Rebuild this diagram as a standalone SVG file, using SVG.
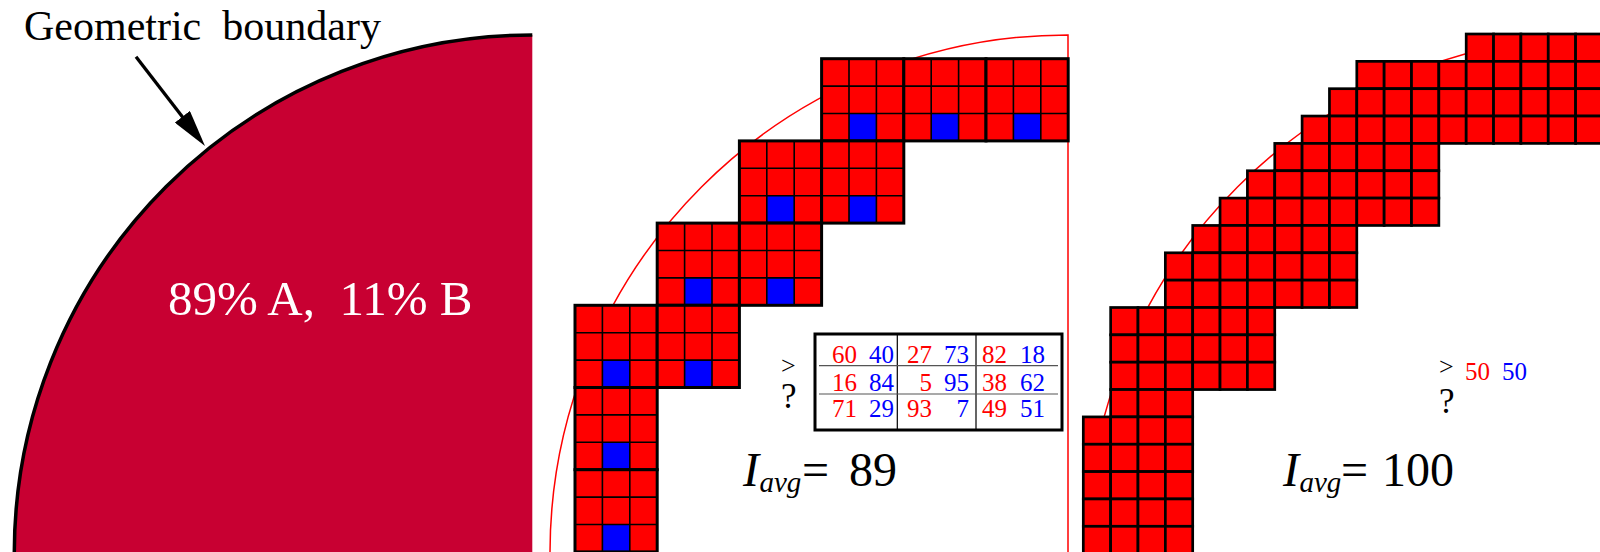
<svg xmlns="http://www.w3.org/2000/svg" xmlns:xlink="http://www.w3.org/1999/xlink" width="1600" height="552" viewBox="0 0 1600 552">
<style>
text{font-family:"Liberation Serif","Times New Roman",serif;}
.pre{white-space:pre;}
.r{fill:#ff0000;}
.b{fill:#0000ff;}
.num{font-size:25px;text-anchor:end;}
.it{font-style:italic;}
.bnd{fill:none;stroke:#ff0000;stroke-width:1.5;}
</style>
<defs>
<marker id="arrow" viewBox="0 0 37 19" refX="12" refY="9.5" markerWidth="37" markerHeight="19" markerUnits="userSpaceOnUse" orient="auto">
<path d="M0,0 L37,9.5 L0,19 Z" fill="#000"/>
</marker>
<g id="blk">
<rect x="0" y="0" width="82.2" height="82.2" fill="#ff0000"/>
<rect x="27.4" y="54.8" width="27.4" height="27.4" fill="#0000ff"/>
<path d="M27.4,0V82.2M54.8,0V82.2M0,27.4H82.2M0,54.8H82.2" stroke="#000" stroke-width="1.6" fill="none"/>
<rect x="0" y="0" width="82.2" height="82.2" fill="none" stroke="#000" stroke-width="3"/>
</g>
<rect id="rc" x="0" y="0" width="27.35" height="27.35" fill="#ff0000" stroke="#000" stroke-width="2.7"/>
</defs>
<rect width="1600" height="552" fill="#fff"/>

<g id="panel-geometry">
<path d="M532.3,35 A518,518 0 0 0 14.3,553 L532.3,553 Z" fill="#c80032"/>
<path d="M532.3,35 A518,518 0 0 0 14.3,553" fill="none" stroke="#000" stroke-width="3.5"/>
<text x="168" y="315" font-size="49" fill="#fff" class="pre">89% A,  11% B</text>
</g>

<g id="label-boundary">
<text x="24" y="40" font-size="42" fill="#000" class="pre">Geometric  boundary</text>
</g>

<g id="connectors">
<line x1="136" y1="56.7" x2="189.7" y2="126.2" stroke="#000" stroke-width="3.3" marker-end="url(#arrow)"/>
</g>

<g id="panel-blocks">
<path class="bnd" d="M550,553 A518,518 0 0 1 1068,35 V553"/>
<use href="#blk" x="821.6" y="58.7"/>
<use href="#blk" x="903.8" y="58.7"/>
<use href="#blk" x="986" y="58.7"/>
<use href="#blk" x="739.4" y="140.9"/>
<use href="#blk" x="821.6" y="140.9"/>
<use href="#blk" x="657.2" y="223.1"/>
<use href="#blk" x="739.4" y="223.1"/>
<use href="#blk" x="575" y="305.3"/>
<use href="#blk" x="657.2" y="305.3"/>
<use href="#blk" x="575" y="387.5"/>
<use href="#blk" x="575" y="469.7"/>
<g id="table">
<rect x="815" y="334" width="247" height="96" fill="#fff" stroke="#000" stroke-width="3"/>
<path d="M897.3,334V430M976,334V430" stroke="#000" stroke-width="1.2" fill="none"/>
<path d="M819,365.7H1058M819,394H1058" stroke="#555" stroke-width="1.2" fill="none"/>
<text class="num r" x="857" y="362.7">60</text>
<text class="num b" x="894" y="362.7">40</text>
<text class="num r" x="932" y="362.7">27</text>
<text class="num b" x="969" y="362.7">73</text>
<text class="num r" x="1007" y="362.7">82</text>
<text class="num b" x="1045" y="362.7">18</text>
<text class="num r" x="857" y="391">16</text>
<text class="num b" x="894" y="391">84</text>
<text class="num r" x="932" y="391">5</text>
<text class="num b" x="969" y="391">95</text>
<text class="num r" x="1007" y="391">38</text>
<text class="num b" x="1045" y="391">62</text>
<text class="num r" x="857" y="416.7">71</text>
<text class="num b" x="894" y="416.7">29</text>
<text class="num r" x="932" y="416.7">93</text>
<text class="num b" x="969" y="416.7">7</text>
<text class="num r" x="1007" y="416.7">49</text>
<text class="num b" x="1045" y="416.7">51</text>
</g>
<text x="781" y="374" font-size="26">&gt;</text>
<text x="781" y="408" font-size="35">?</text>
<g id="iavg-89">
<text x="743" y="485.5" font-size="48" class="it">I</text>
<text x="759.5" y="492" font-size="29" class="it">avg</text>
<text x="802" y="485.5" font-size="48">=</text>
<text x="849" y="485.5" font-size="48">89</text>
</g>
</g>

<g id="panel-cells">
<path class="bnd" d="M1086,553 A518,518 0 0 1 1604,35"/>
<g id="row0" transform="translate(0,34)"><use href="#rc" x="1466.2"/><use href="#rc" x="1493.55"/><use href="#rc" x="1520.9"/><use href="#rc" x="1548.25"/><use href="#rc" x="1575.6"/></g>
<g id="row1" transform="translate(0,61.35)"><use href="#rc" x="1356.8"/><use href="#rc" x="1384.15"/><use href="#rc" x="1411.5"/><use href="#rc" x="1438.85"/><use href="#rc" x="1466.2"/><use href="#rc" x="1493.55"/><use href="#rc" x="1520.9"/><use href="#rc" x="1548.25"/><use href="#rc" x="1575.6"/></g>
<g id="row2" transform="translate(0,88.7)"><use href="#rc" x="1329.45"/><use href="#rc" x="1356.8"/><use href="#rc" x="1384.15"/><use href="#rc" x="1411.5"/><use href="#rc" x="1438.85"/><use href="#rc" x="1466.2"/><use href="#rc" x="1493.55"/><use href="#rc" x="1520.9"/><use href="#rc" x="1548.25"/><use href="#rc" x="1575.6"/></g>
<g id="row3" transform="translate(0,116.05)"><use href="#rc" x="1302.1"/><use href="#rc" x="1329.45"/><use href="#rc" x="1356.8"/><use href="#rc" x="1384.15"/><use href="#rc" x="1411.5"/><use href="#rc" x="1438.85"/><use href="#rc" x="1466.2"/><use href="#rc" x="1493.55"/><use href="#rc" x="1520.9"/><use href="#rc" x="1548.25"/><use href="#rc" x="1575.6"/></g>
<g id="row4" transform="translate(0,143.4)"><use href="#rc" x="1274.75"/><use href="#rc" x="1302.1"/><use href="#rc" x="1329.45"/><use href="#rc" x="1356.8"/><use href="#rc" x="1384.15"/><use href="#rc" x="1411.5"/></g>
<g id="row5" transform="translate(0,170.75)"><use href="#rc" x="1247.4"/><use href="#rc" x="1274.75"/><use href="#rc" x="1302.1"/><use href="#rc" x="1329.45"/><use href="#rc" x="1356.8"/><use href="#rc" x="1384.15"/><use href="#rc" x="1411.5"/></g>
<g id="row6" transform="translate(0,198.1)"><use href="#rc" x="1220.05"/><use href="#rc" x="1247.4"/><use href="#rc" x="1274.75"/><use href="#rc" x="1302.1"/><use href="#rc" x="1329.45"/><use href="#rc" x="1356.8"/><use href="#rc" x="1384.15"/><use href="#rc" x="1411.5"/></g>
<g id="row7" transform="translate(0,225.45)"><use href="#rc" x="1192.7"/><use href="#rc" x="1220.05"/><use href="#rc" x="1247.4"/><use href="#rc" x="1274.75"/><use href="#rc" x="1302.1"/><use href="#rc" x="1329.45"/></g>
<g id="row8" transform="translate(0,252.8)"><use href="#rc" x="1165.35"/><use href="#rc" x="1192.7"/><use href="#rc" x="1220.05"/><use href="#rc" x="1247.4"/><use href="#rc" x="1274.75"/><use href="#rc" x="1302.1"/><use href="#rc" x="1329.45"/></g>
<g id="row9" transform="translate(0,280.15)"><use href="#rc" x="1165.35"/><use href="#rc" x="1192.7"/><use href="#rc" x="1220.05"/><use href="#rc" x="1247.4"/><use href="#rc" x="1274.75"/><use href="#rc" x="1302.1"/><use href="#rc" x="1329.45"/></g>
<g id="row10" transform="translate(0,307.5)"><use href="#rc" x="1110.65"/><use href="#rc" x="1138"/><use href="#rc" x="1165.35"/><use href="#rc" x="1192.7"/><use href="#rc" x="1220.05"/><use href="#rc" x="1247.4"/></g>
<g id="row11" transform="translate(0,334.85)"><use href="#rc" x="1110.65"/><use href="#rc" x="1138"/><use href="#rc" x="1165.35"/><use href="#rc" x="1192.7"/><use href="#rc" x="1220.05"/><use href="#rc" x="1247.4"/></g>
<g id="row12" transform="translate(0,362.2)"><use href="#rc" x="1110.65"/><use href="#rc" x="1138"/><use href="#rc" x="1165.35"/><use href="#rc" x="1192.7"/><use href="#rc" x="1220.05"/><use href="#rc" x="1247.4"/></g>
<g id="row13" transform="translate(0,389.55)"><use href="#rc" x="1110.65"/><use href="#rc" x="1138"/><use href="#rc" x="1165.35"/></g>
<g id="row14" transform="translate(0,416.9)"><use href="#rc" x="1083.3"/><use href="#rc" x="1110.65"/><use href="#rc" x="1138"/><use href="#rc" x="1165.35"/></g>
<g id="row15" transform="translate(0,444.25)"><use href="#rc" x="1083.3"/><use href="#rc" x="1110.65"/><use href="#rc" x="1138"/><use href="#rc" x="1165.35"/></g>
<g id="row16" transform="translate(0,471.6)"><use href="#rc" x="1083.3"/><use href="#rc" x="1110.65"/><use href="#rc" x="1138"/><use href="#rc" x="1165.35"/></g>
<g id="row17" transform="translate(0,498.95)"><use href="#rc" x="1083.3"/><use href="#rc" x="1110.65"/><use href="#rc" x="1138"/><use href="#rc" x="1165.35"/></g>
<g id="row18" transform="translate(0,526.3)"><use href="#rc" x="1083.3"/><use href="#rc" x="1110.65"/><use href="#rc" x="1138"/><use href="#rc" x="1165.35"/></g>
<text x="1439" y="375" font-size="26">&gt;</text>
<text x="1465" y="380" font-size="25" class="r">50</text>
<text x="1502" y="380" font-size="25" class="b">50</text>
<text x="1439" y="413" font-size="35">?</text>
<g id="iavg-100">
<text x="1283" y="485.5" font-size="48" class="it">I</text>
<text x="1299.5" y="492" font-size="29" class="it">avg</text>
<text x="1341" y="485.5" font-size="48">=</text>
<text x="1382" y="485.5" font-size="48">100</text>
</g>
</g>
</svg>
